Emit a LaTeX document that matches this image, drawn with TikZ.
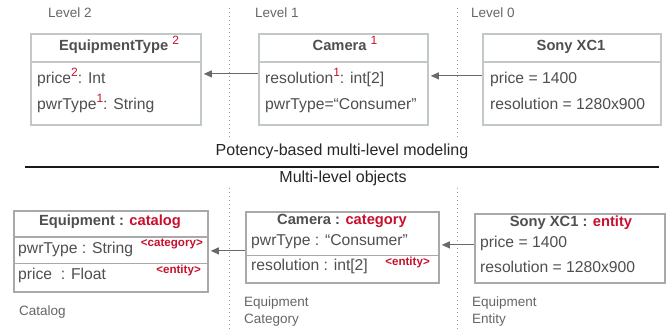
\documentclass[tikz,border=0pt]{standalone}
\usepackage{fontspec}
\setmainfont{Liberation Sans}
\usetikzlibrary{arrows.meta,calc}
\definecolor{txt}{HTML}{4F4F4F}
\definecolor{lblc}{HTML}{666666}
\definecolor{potred}{HTML}{C8102E}
\definecolor{bordT}{HTML}{C2C7CA}
\definecolor{bordB}{HTML}{A9A9A9}
\definecolor{arrc}{HTML}{6A6A6A}
\newcommand{\pot}[1]{\raisebox{0.45em}{\fontsize{12}{12}\selectfont\mdseries\color{potred}#1}}
\begin{document}
\begin{tikzpicture}[x=1pt,y=-1pt,
  boxT/.style={draw=bordT, line width=1.8pt, anchor=north west, inner sep=0, fill=white},
  boxB/.style={draw=bordB, line width=1.8pt, anchor=north west, inner sep=0, fill=white},
  sepT/.style={draw=bordT, line width=1.8pt},
  sepB/.style={draw=bordB, line width=1.8pt},
  hdr/.style={font=\fontsize{14.7}{17}\selectfont\bfseries, text=txt, anchor=mid, inner sep=0},
  row/.style={font=\fontsize{15.7}{18}\selectfont, text=txt, anchor=mid west, inner sep=0},
  tag/.style={font=\fontsize{11.6}{13}\selectfont\bfseries, text=potred, anchor=mid east, inner sep=0},
  lbl/.style={font=\fontsize{13.5}{16.5}\selectfont, text=lblc, anchor=north west, inner sep=0, align=left},
  ttl/.style={font=\fontsize{16}{19}\selectfont, text=black!85, anchor=mid, inner sep=0},
  conn/.style={draw=arrc, line width=1pt, -{Triangle[length=8pt,width=7pt]}, shorten >=2pt},
  divider/.style={draw=gray!80, line width=1pt, dash pattern=on 1pt off 3pt}
]
\useasboundingbox (0,0) rectangle (667,334);

% dividers
\draw[divider] (229,8) -- (229,140);
\draw[divider] (457,8) -- (457,140);
\draw[divider] (229,188) -- (229,332);
\draw[divider] (457,188) -- (457,332);

% level labels
\node[lbl, anchor=mid west] (l2) at (48,15) {Level 2};
\node[lbl, anchor=mid west] (l1) at (255,15) {Level 1};
\node[lbl, anchor=mid west] (l0) at (471,15) {Level 0};

% ---- top boxes ----
\node[boxT, minimum width=170pt, minimum height=91pt] (eqT) at (30,33) {};
\draw[sepT] (eqT.west |- 0,62) -- (eqT.east |- 0,62);
\node[hdr] (eqTh) at (119,48) {EquipmentType \pot{2}};
\node[row] (eqTr1) at (37,81) {price\pot{2}: Int};
\node[row] (eqTr2) at (37,107) {pwrType\pot{1}: String};

\node[boxT, minimum width=169pt, minimum height=91pt] (camT) at (258,33) {};
\draw[sepT] (camT.west |- 0,62) -- (camT.east |- 0,62);
\node[hdr] (camTh) at (345,48) {Camera \pot{1}};
\node[row] (camTr1) at (265,81) {resolution\pot{1}: int[2]};
\node[row] (camTr2) at (265,107) {pwrType=“Consumer”};

\node[boxT, minimum width=178pt, minimum height=91pt] (sonyT) at (482,33) {};
\draw[sepT] (sonyT.west |- 0,62) -- (sonyT.east |- 0,62);
\node[hdr] (sonyTh) at (571,48) {Sony XC1};
\node[row] (sonyTr1) at (490,81) {price = 1400};
\node[row] (sonyTr2) at (490,107) {resolution = 1280x900};

\draw[conn] ($(camT.west)+(0,-5.5)$) -- ($(eqT.east)+(0,-5.5)$);
\draw[conn] ($(sonyT.west)+(0,-3.5)$) -- ($(camT.east)+(0,-3.5)$);

% ---- middle ----
\node[ttl] (t1) at (342,153) {Potency-based multi-level modeling};
\draw[line width=1.4pt, black!90] (25,167) -- (659,167);
\node[ttl] (t2) at (343,180) {Multi-level objects};

% ---- bottom boxes ----
\node[boxB, minimum width=194pt, minimum height=81pt] (eqB) at (13,210) {};
\draw[sepB] (eqB.west |- 0,237) -- (eqB.east |- 0,237);
\draw[sepB] (eqB.west |- 0,263.5) -- (eqB.east |- 0,263.5);
\node[hdr] (eqBh) at (110,223) {Equipment : \textcolor{potred}{catalog}};
\node[row] (eqBr1) at (18,251) {pwrType : String};
\node[tag] (eqBt1) at (203,244) {<category>};
\node[row] (eqBr2) at (18,277) {price \ : Float};
\node[tag] (eqBt2) at (201,271) {<entity>};
\node[lbl] (catl) at (19,306) {Catalog};

\node[boxB, minimum width=193pt, minimum height=71pt] (camB) at (245,211) {};
\draw[sepB] (camB.west |- 0,255.5) -- (camB.east |- 0,255.5);
\node[hdr] (camBh) at (342,222) {Camera : \textcolor{potred}{category}};
\node[row] (camBr1) at (251,243) {pwrType : “Consumer”};
\node[row] (camBr2) at (251,268) {resolution : int[2]};
\node[tag] (camBt) at (430,263) {<entity>};
\node[lbl] (catc) at (244,297) {Equipment\\Category};

\node[boxB, minimum width=190pt, minimum height=69pt] (sonyB) at (474,213) {};
\node[hdr] (sonyBh) at (571,224) {Sony XC1 : \textcolor{potred}{entity}};
\node[row] (sonyBr1) at (480,245) {price = 1400};
\node[row] (sonyBr2) at (480,270) {resolution = 1280x900};
\node[lbl] (cate) at (472,297) {Equipment\\Entity};

\draw[conn] ($(camB.west)+(0,3.5)$) -- ($(eqB.east)+(0,-0.5)$);
\draw[conn] ($(sonyB.west)+(0,-3.5)$) -- ($(camB.east)+(0,-2.5)$);
\end{tikzpicture}
\end{document}
